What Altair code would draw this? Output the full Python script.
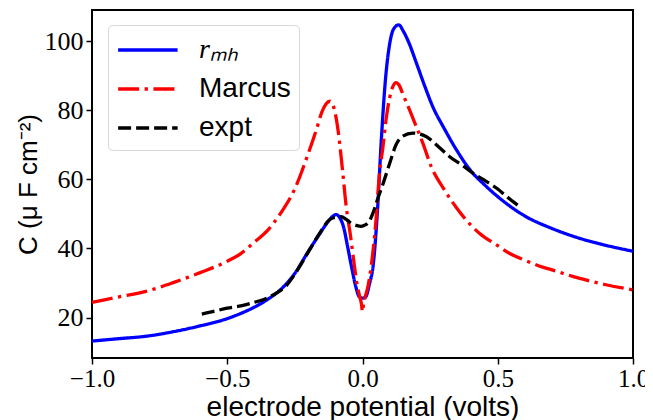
import altair as alt
import pandas as pd

# r_MH model curve
x_rmh = [-1.0, -0.9, -0.8, -0.7, -0.6, -0.5, -0.45, -0.4, -0.35, -0.3, -0.25, -0.2, -0.16, -0.13,
         -0.11, -0.097, -0.085, -0.07, -0.055, -0.04, -0.025, -0.012, 0.0, 0.012, 0.025, 0.04,
         0.055, 0.07, 0.085, 0.1, 0.115, 0.134, 0.15, 0.17, 0.2, 0.23, 0.26, 0.3, 0.35, 0.4,
         0.45, 0.5, 0.6, 0.7, 0.8, 0.9, 1.0]
y_rmh = [13.2, 13.9, 14.6, 15.9, 17.6, 19.7, 21.2, 23.0, 25.3, 28.3, 32.8, 39.2, 44.0, 47.5,
         49.3, 49.8, 49.0, 46.2, 40.5, 34.5, 29.0, 26.0, 25.6, 26.0, 29.5, 35.5,
         50.5, 72.0, 89.0, 99.0, 103.5, 104.7, 103.0, 99.8, 93.5, 87.0, 81.0, 75.0, 68.2, 62.5,
         58.5, 55.0, 49.4, 45.8, 43.0, 40.9, 39.2]

# Marcus curve
x_marcus = [-1.0, -0.9, -0.8, -0.7, -0.6, -0.5, -0.45, -0.4, -0.35, -0.3, -0.25, -0.2, -0.17,
            -0.15, -0.135, -0.12, -0.105, -0.09, -0.075, -0.06, -0.045, -0.03, -0.02, -0.01,
            -0.004, 0.0, 0.004, 0.01, 0.02, 0.032, 0.05, 0.063, 0.075, 0.087, 0.1, 0.112, 0.124,
            0.135, 0.15, 0.174, 0.2, 0.223, 0.254, 0.3, 0.35, 0.4, 0.432, 0.5, 0.543, 0.6, 0.666,
            0.7, 0.8, 0.9, 1.0]
y_marcus = [24.4, 26.0, 27.6, 30.1, 33.0, 36.3, 38.5, 41.8, 45.3, 50.5, 57.3, 67.6, 74.5,
            79.5, 81.8, 82.6, 80.5, 74.0, 63.5, 52.0, 44.0, 35.0, 29.5, 26.0,
            24.0, 21.7, 24.0, 26.0, 29.0, 34.8, 48.3, 62.0, 69.0, 77.2, 83.5, 86.8, 88.0,
            87.3, 84.5, 80.1, 75.0, 70.5, 63.7, 57.3, 51.5, 46.8, 44.4, 40.8, 38.6, 36.6, 34.6,
            33.8, 31.4, 29.5, 28.0]

# experimental data
x_expt = [-0.594, -0.55, -0.5, -0.45, -0.4, -0.36, -0.32, -0.282, -0.25, -0.2, -0.16, -0.122,
          -0.1, -0.079, -0.06, -0.042, -0.02, -0.005, 0.01, 0.026, 0.04, 0.057, 0.075,
          0.1, 0.124, 0.149, 0.186, 0.235, 0.28, 0.321, 0.37, 0.408, 0.457, 0.5,
          0.53, 0.574]
y_expt = [21.0, 21.8, 22.7, 23.4, 24.4, 25.4, 27.0, 29.2, 32.6, 39.0, 44.2, 48.3,
          49.0, 49.2, 48.4, 47.3, 46.6, 46.4, 46.8, 48.0, 50.5, 54.5, 58.5,
          64.5, 70.0, 72.5, 73.4, 72.4, 69.5, 66.6, 64.0, 61.8, 59.4, 57.2,
          55.2, 52.5]

series_names = ["r_MH", "Marcus", "expt"]
series_colors = ["#0000ff", "#ff0000", "#000000"]
series_dashes = [[1, 0], [21, 5.5, 3.3, 5.5], [13, 5]]

x_ticks = [-1.0, -0.5, 0.0, 0.5, 1.0]
y_ticks = [20, 40, 60, 80, 100]

frames = []
for name, xs, ys in [("r_MH", x_rmh, y_rmh), ("Marcus", x_marcus, y_marcus), ("expt", x_expt, y_expt)]:
    frames.append(pd.DataFrame({"V": xs, "C": ys, "series": name, "order": range(len(xs))}))
df = pd.concat(frames, ignore_index=True)

serif = "Liberation Serif"
sans = "Liberation Sans"

label_expr = "datum.label == 'r_MH' ? 'rₘₕ' : datum.label"
leg = alt.Legend(title=None, labelExpr=label_expr,
                 labelFontStyle={"expr": "datum.label == 'r_MH' ? 'italic' : 'normal'"},
                 labelFont={"expr": "datum.label == 'r_MH' ? 'Liberation Serif' : 'Liberation Sans'"})

chart = alt.Chart(df).mark_line(strokeWidth=3.3, interpolate="monotone", strokeCap="butt").encode(
    x=alt.X("V:Q", scale=alt.Scale(domain=[-1, 1], nice=False, zero=False),
            axis=alt.Axis(values=x_ticks, format=".1f", title="electrode potential (volts)",
                          grid=False, domain=False, tickColor="black", tickWidth=1.5, tickSize=6,
                          labelFont=serif, labelFontSize=25, labelColor="black", labelPadding=2,
                          labelFlush=False,
                          titleFont=sans, titleFontSize=28, titleFontWeight="normal",
                          titleColor="black", titlePadding=2)),
    y=alt.Y("C:Q", scale=alt.Scale(domain=[8.3, 109], nice=False, zero=False),
            axis=alt.Axis(values=y_ticks, format="d", title="C (μ F cm⁻²)",
                          grid=False, domain=False, tickColor="black", tickWidth=1.5, tickSize=6,
                          labelFont=serif, labelFontSize=26, labelColor="black", labelPadding=3,
                          titleFont=sans, titleFontSize=26, titleFontWeight="normal",
                          titleColor="black", titlePadding=3)),
    color=alt.Color("series:N", scale=alt.Scale(domain=series_names, range=series_colors),
                    legend=leg),
    strokeDash=alt.StrokeDash("series:N", scale=alt.Scale(domain=series_names, range=series_dashes),
                              legend=leg),
    order="order:Q",
).properties(
    width=541, height=348,
    autosize=alt.AutoSizeParams(type="none"),
    padding={"left": 84, "top": 2, "right": 12, "bottom": 62},
).configure_view(
    stroke="black", strokeWidth=2
).configure_legend(
    orient="none", legendX=16, legendY=15,
    padding=8, fillColor="rgba(255,255,255,0.85)", strokeColor="#d8d8d8", cornerRadius=4,
    symbolType="M-1,0H3", symbolSize=885, symbolStrokeWidth=3.3,
    labelFontSize=28, labelColor="black", labelOffset=49,
    rowPadding=8,
)

chart.save("out.html", embed_options={"renderer": "svg", "actions": False})
